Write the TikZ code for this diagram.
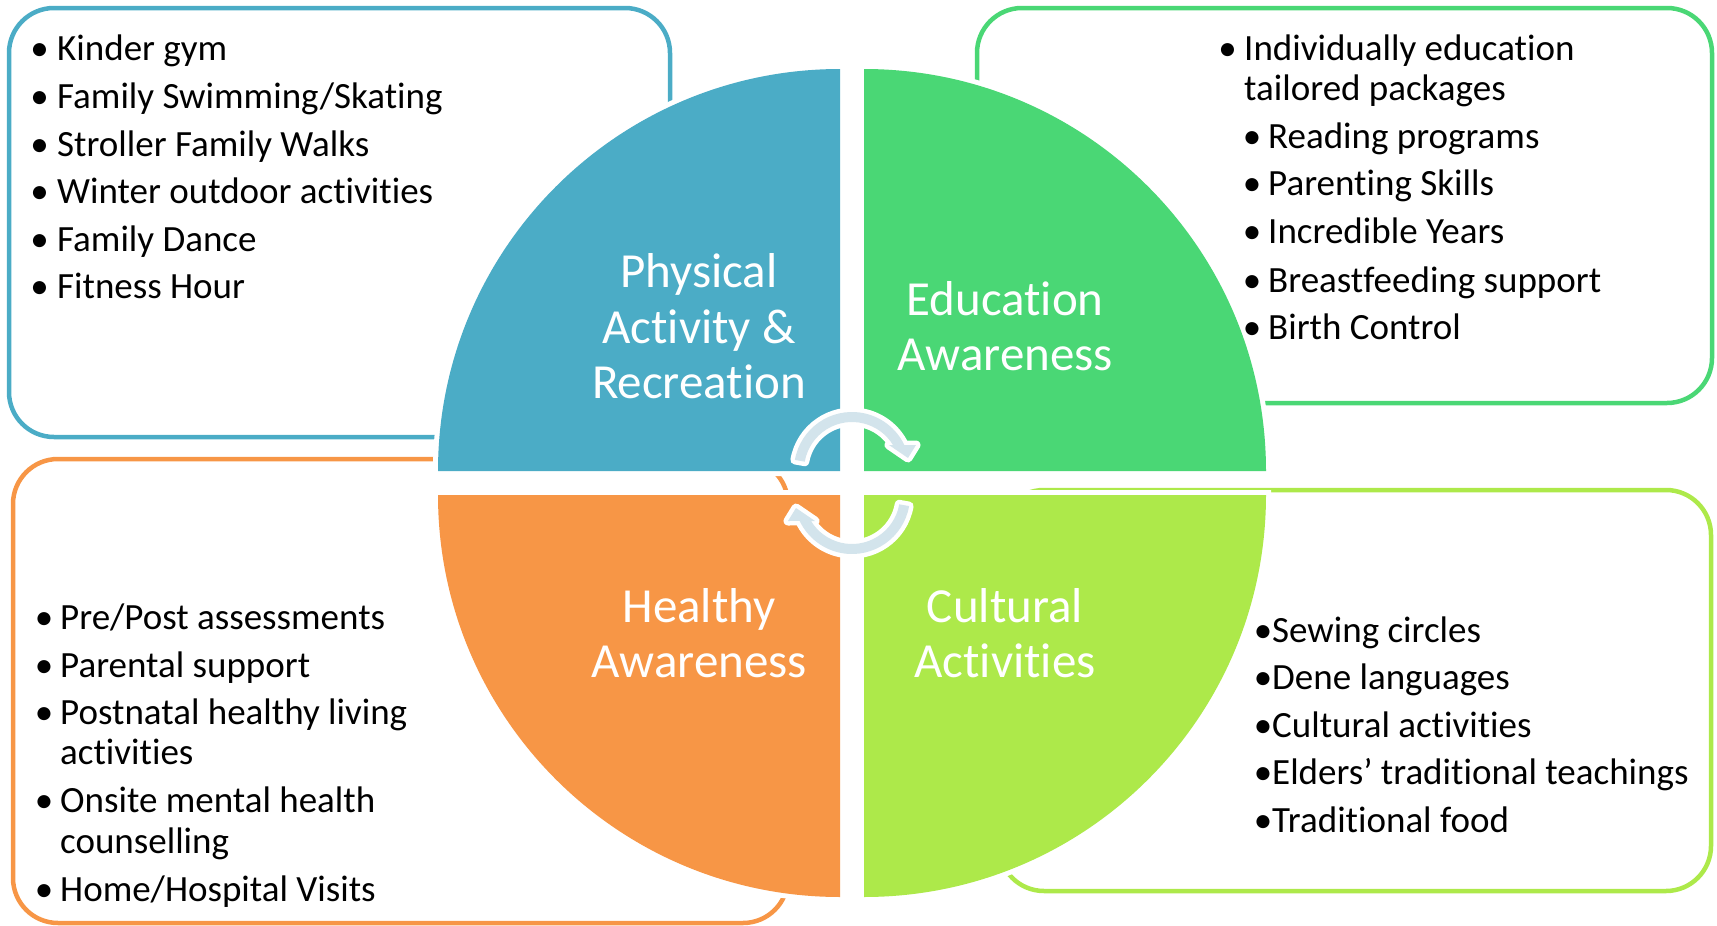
\documentclass[tikz,border=0pt]{standalone}
\usepackage{fontspec}
\setmainfont{Carlito}[Ligatures=CommonOff]
\definecolor{qblue}{HTML}{4BACC6}
\definecolor{qgreen}{HTML}{4AD775}
\definecolor{qorange}{HTML}{F79646}
\definecolor{qlime}{HTML}{ADE94A}
\definecolor{arrowc}{HTML}{D3E4EC}
\newcommand\bitem[5]{\node[bul] (#1b) at (#2,#4) {\textbullet};\node[itm] (#1) at (#3,#4) {#5};}
\begin{document}
\begin{tikzpicture}[x=1pt,y=-1pt,
  boxsty/.style={line width=4.5pt, rounded corners=45pt},
  quadsty/.style={preaction={draw=white,line width=10pt}},
  arrsty/.style={fill=arrowc, preaction={draw=white,line width=9pt,line join=round}},
  itm/.style={anchor=base west, inner sep=0pt, font=\fontsize{37}{44}\selectfont},
  bul/.style={anchor=base, inner sep=0pt, font=\fontsize{37}{44}\selectfont},
  lab/.style={anchor=base, inner sep=0pt, text=white, font=\fontsize{49}{56}\selectfont}]
\useasboundingbox (0,0) rectangle (1717,926);
% text boxes
\draw[boxsty, qblue] (9,8) rectangle (670,437);
\draw[boxsty, qgreen] (977,8) rectangle (1712,403);
\draw[boxsty, qorange] (13,459) rectangle (788,923);
\draw[boxsty, qlime] (999,490) rectangle (1711,891);
% quadrants
\path[quadsty, fill=qblue] (840,471) -- (438,471) arc[start angle=180,end angle=270,radius=402] -- cycle;
\path[quadsty, fill=qgreen] (864,471) -- (864,69) arc[start angle=270,end angle=360,radius=402] -- cycle;
\path[quadsty, fill=qorange] (840,495) -- (438,495) arc[start angle=180,end angle=90,radius=402] -- cycle;
\path[quadsty, fill=qlime] (864,495) -- (1266,495) arc[start angle=0,end angle=90,radius=402] -- cycle;
% circular arrows
\begin{scope}[shift={(852,470)}]
\path[arrsty] (-47.27,-8.34) -- (-57.12,-10.07) arc[start angle=190,end angle=334.5,radius=58] -- (64,-25) -- (56,-12) -- (37,-25) -- (40.98,-25.0) arc[start angle=328.6,end angle=190,radius=48] -- cycle;
\end{scope}
\begin{scope}[shift={(852,496)},rotate=180]
\path[arrsty] (-47.27,-8.34) -- (-57.12,-10.07) arc[start angle=190,end angle=334.5,radius=58] -- (64,-25) -- (56,-12) -- (37,-25) -- (40.98,-25.0) arc[start angle=328.6,end angle=190,radius=48] -- cycle;
\end{scope}
% quadrant labels
\node[lab] (pa1) at (699,287) {Physical};
\node[lab] (pa2) at (699,343) {Activity \&};
\node[lab] (pa3) at (699,398) {Recreation};
\node[lab] (ea1) at (1005,315) {Education};
\node[lab] (ea2) at (1005,370) {Awareness};
\node[lab] (ha1) at (699,622) {Healthy};
\node[lab] (ha2) at (699,677) {Awareness};
\node[lab] (ca1) at (1005,622) {Cultural};
\node[lab] (ca2) at (1005,677) {Activities};
% physical activity list
\bitem{p1}{39.5}{57}{60}{Kinder gym}
\bitem{p2}{39.5}{57}{108}{Family Swimming/Skating}
\bitem{p3}{39.5}{57}{156}{Stroller Family Walks}
\bitem{p4}{39.5}{57}{203}{Winter outdoor activities}
\bitem{p5}{39.5}{57}{251}{Family Dance}
\bitem{p6}{39.5}{57}{298}{Fitness Hour}
% education list
\bitem{e1}{1227.5}{1244}{60}{Individually education}
\node[itm] (e1c) at (1244,100) {tailored packages};
\bitem{e2}{1252}{1268}{148}{Reading programs}
\bitem{e3}{1252}{1268}{195}{Parenting Skills}
\bitem{e4}{1252}{1268}{243}{Incredible Years}
\bitem{e5}{1252}{1268}{292}{Breastfeeding support}
\bitem{e6}{1252}{1268}{339}{Birth Control}
% healthy list
\bitem{h1}{44}{60}{629}{Pre/Post assessments}
\bitem{h2}{44}{60}{677}{Parental support}
\bitem{h3}{44}{60}{724}{Postnatal healthy living}
\node[itm] (h3c) at (60,764) {activities};
\bitem{h4}{44}{60}{812}{Onsite mental health}
\node[itm] (h4c) at (60,853) {counselling};
\bitem{h5}{44}{60}{901}{Home/Hospital Visits}
% cultural list
\bitem{c1}{1263}{1272}{642}{Sewing circles}
\bitem{c2}{1263}{1272}{689}{Dene languages}
\bitem{c3}{1263}{1272}{737}{Cultural activities}
\bitem{c4}{1263}{1272}{784}{Elders’ traditional teachings}
\bitem{c5}{1263}{1272}{832}{Traditional food}
\end{tikzpicture}
\end{document}
